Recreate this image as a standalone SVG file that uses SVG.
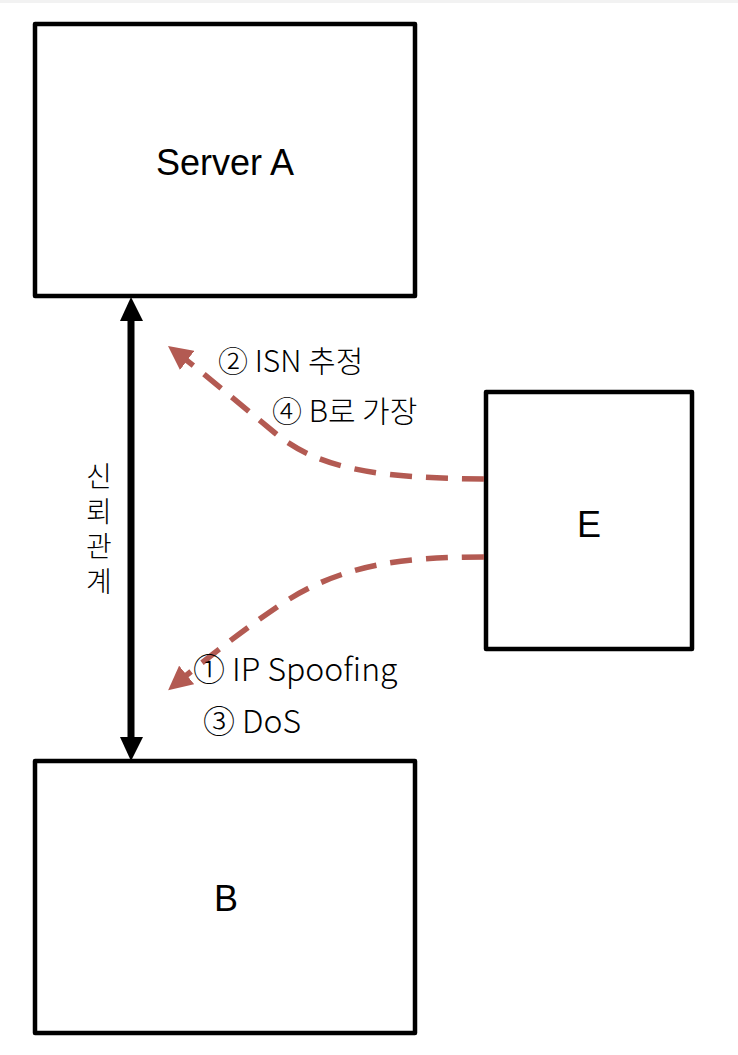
<svg xmlns="http://www.w3.org/2000/svg" width="738" height="1055" viewBox="0 0 738 1055">
<style>
.box{fill:#fff;stroke:#000;stroke-width:4.5;stroke-linejoin:round}
.lbl{font-family:"Liberation Sans","Noto Sans",Arial,sans-serif;font-size:36px;fill:#000;text-anchor:middle}
.hw{font-family:"Noto Sans CJK KR","Noto Sans",sans-serif;font-weight:300;fill:#000}
.atk{fill:none;stroke:#B35A52;stroke-width:5.5;stroke-dasharray:22 14}
</style>
<defs>
<marker id="red" viewBox="0 0 24 24" markerWidth="24" markerHeight="24" refX="19" refY="12" orient="auto" markerUnits="userSpaceOnUse">
<path d="M0,0 L24,12 L0,24 Z" fill="#B35A52"/>
</marker>
</defs>
<rect x="0" y="0" width="738" height="3" fill="#f2f2f2"/>
<g id="serverA">
<rect class="box" x="35" y="24" width="380" height="272"/>
<text class="lbl" x="225" y="175">Server A</text>
</g>
<g id="B">
<rect class="box" x="35" y="761" width="380" height="272"/>
<text class="lbl" x="226" y="911">B</text>
</g>
<g id="E">
<rect class="box" x="486" y="392" width="206" height="257"/>
<text class="lbl" x="589" y="537">E</text>
</g>
<g id="connectors">
<line x1="131" y1="320" x2="131" y2="737" stroke="#000" stroke-width="7"/>
<path d="M120,321 L131,297 L143,321 Z" fill="#000"/>
<path d="M120,737 L131,761 L143,737 Z" fill="#000"/>
<path class="atk" d="M484,479 C 380,478 320,470 275,433 C 235,400 200,370 172,349" marker-end="url(#red)"/>
<path class="atk" d="M484,557 C 400,557 340,565 280,605 C 240,632 205,660 172,687" marker-end="url(#red)"/>
</g>
<g id="labels">
<text class="hw" font-size="30" x="218" y="372">② ISN 추정</text>
<text class="hw" font-size="30" x="272" y="422">④ B로 가장</text>
<text class="hw" font-size="32" x="193" y="681">① IP Spoofing</text>
<text class="hw" font-size="32" x="203" y="733">③ DoS</text>
<text class="hw" font-size="28" x="99" y="462" writing-mode="tb" style="writing-mode:vertical-rl" letter-spacing="7">신뢰관계</text>
</g>
</svg>
